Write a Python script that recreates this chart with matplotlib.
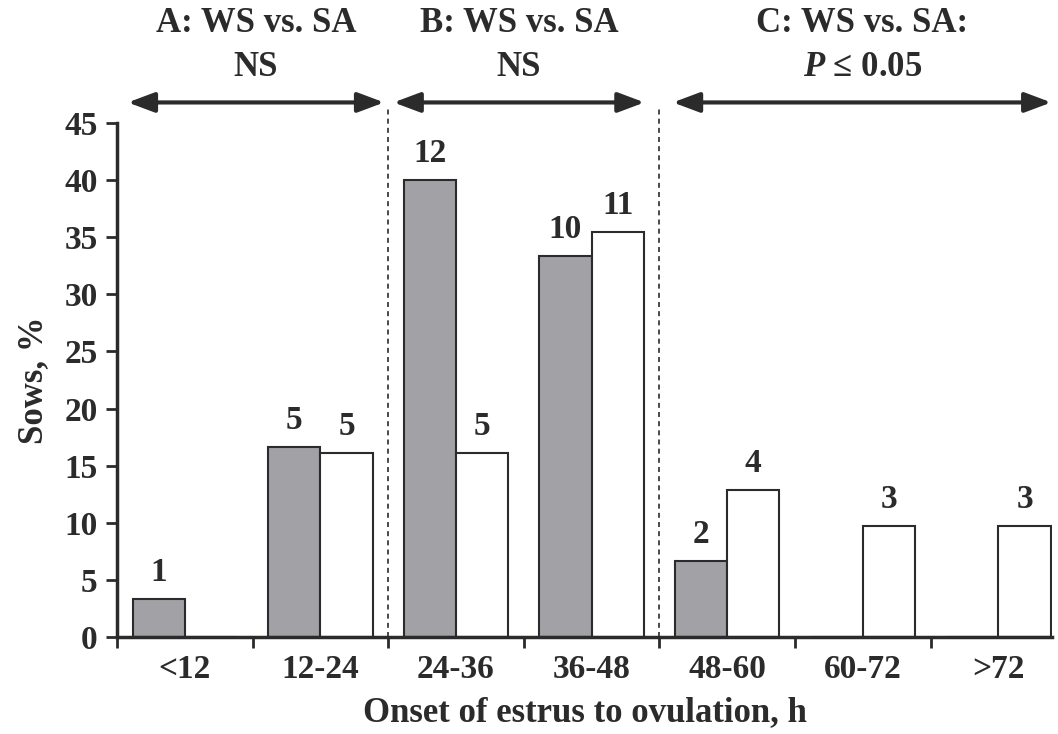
import numpy as np
import matplotlib.pyplot as plt

plt.rcParams['font.family'] = ['Liberation Serif', 'DejaVu Serif']
plt.rcParams['font.weight'] = 'bold'
plt.rcParams['axes.labelweight'] = 'bold'
plt.rcParams['mathtext.fontset'] = 'custom'
plt.rcParams['mathtext.it'] = 'Liberation Serif:italic:bold'
plt.rcParams['mathtext.rm'] = 'Liberation Serif:bold'

categories = ['<12', '12-24', '24-36', '36-48', '48-60', '60-72', '>72']
ws_counts = [1, 5, 12, 10, 2, 0, 0]
sa_counts = [0, 5, 5, 11, 4, 3, 3]
ws_total = 30
sa_total = 31
ws_pct = [100.0 * c / ws_total for c in ws_counts]
sa_pct = [100.0 * c / sa_total for c in sa_counts]

groups = [('A: WS vs. SA\nNS', -0.42, 1.47),
          ('B: WS vs. SA\nNS', 1.54, 3.39),
          ('C: WS vs. SA:\n$P$ ≤ 0.05', 3.6, 6.39)]
dividers = [1.5, 3.5]

ink = '#2b2b2b'
fig = plt.figure(figsize=(10.58, 7.34), dpi=100)
ax = fig.add_axes([117 / 1058, 1 - 637 / 734, (1052 - 117) / 1058, (637 - 123) / 734])

x = np.arange(len(categories))
w = 0.385
ax.bar(x - w / 2, ws_pct, w, color='#a2a2a6', edgecolor=ink, linewidth=1.5)
ax.bar(x + w / 2, sa_pct, w, color='white', edgecolor=ink, linewidth=1.5)

for xi, p, c in zip(x - w / 2, ws_pct, ws_counts):
    if c:
        ax.annotate(str(c), (xi, p), xytext=(0, 8), textcoords='offset points',
                    ha='center', va='bottom', fontsize=24, color=ink)
for xi, p, c in zip(x + w / 2, sa_pct, sa_counts):
    if c:
        ax.annotate(str(c), (xi, p), xytext=(0, 8), textcoords='offset points',
                    ha='center', va='bottom', fontsize=24, color=ink)

# boundary ticks between categories, labels centred on the categories
ax.set_xticks(np.arange(-0.5, 6, 1))
ax.set_xticklabels([])
ax.set_xticks(x, minor=True)
ax.set_xticklabels(categories, minor=True)
ax.set_yticks(range(0, 46, 5))
ax.set_xlim(-0.5, (1052 - 117) / 135.6 - 0.5)
ax.set_ylim(0, 45)
ax.tick_params(axis='x', which='minor', length=0, pad=12, labelsize=24, labelcolor=ink)
ax.tick_params(axis='x', which='major', length=8, width=2, color=ink)
ax.tick_params(axis='y', length=8, width=2, color=ink, labelsize=24, labelcolor=ink, pad=6)
for s in ['top', 'right']:
    ax.spines[s].set_visible(False)
for s in ['left', 'bottom']:
    ax.spines[s].set_linewidth(2.5)
    ax.spines[s].set_color(ink)

ax.set_xlabel('Onset of estrus to ovulation, h', fontsize=25, color=ink, labelpad=8)
ax.set_ylabel('Sows, %', fontsize=25, color=ink, labelpad=10)

for d in dividers:
    ax.plot([d, d], [0, 46.2], ls=(0, (3, 2.5)), lw=1.2, color=ink, clip_on=False)

for label, x0, x1 in groups:
    ax.annotate('', xy=(x0, 46.8), xytext=(x1, 46.8), annotation_clip=False,
                arrowprops=dict(arrowstyle='<|-|>,head_length=0.8,head_width=0.3',
                                color=ink, lw=3, mutation_scale=20,
                                shrinkA=0, shrinkB=0))
    ax.text((x0 + x1) / 2, 48.4, label, ha='center', va='bottom', fontsize=25,
            color=ink, linespacing=1.45, clip_on=False)

fig.savefig('out.png', dpi=100)
